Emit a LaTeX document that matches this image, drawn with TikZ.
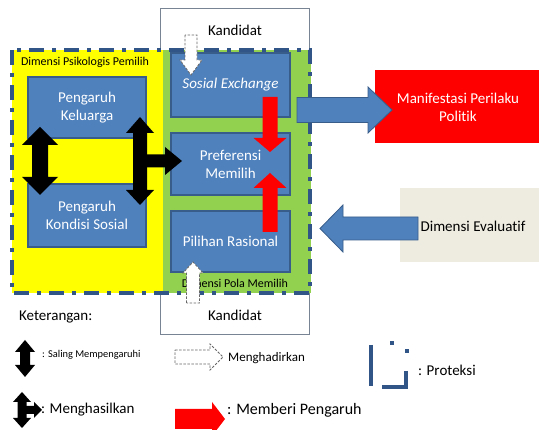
\documentclass[tikz,border=0pt]{standalone}
\usepackage{fontspec}
\setmainfont[Ligatures=NoCommon]{Carlito}
\definecolor{boxblue}{RGB}{79,129,189}
\definecolor{boxborder}{RGB}{56,93,138}
\definecolor{regyellow}{RGB}{255,255,0}
\definecolor{reggreen}{RGB}{146,208,80}
\definecolor{arrred}{RGB}{255,0,0}
\definecolor{protblue}{RGB}{50,85,135}
\definecolor{evalbg}{RGB}{238,236,225}
\definecolor{kborder}{RGB}{120,132,148}
\newcommand\hArr[7]{\path[#1] (#2,#5-#6) -- (#4,#5-#6) -- (#4,#5-#7) -- (#3,#5) -- (#4,#5+#7) -- (#4,#5+#6) -- (#2,#5+#6) -- cycle;}
\newcommand\vArr[7]{\path[#1] (#5-#6,#2) -- (#5-#6,#4) -- (#5-#7,#4) -- (#5,#3) -- (#5+#7,#4) -- (#5+#6,#4) -- (#5+#6,#2) -- cycle;}
\newcommand\vDbl[8]{\path[#1] (#2,#3) -- (#2+#8,#4) -- (#2+#7,#4) -- (#2+#7,#5) -- (#2+#8,#5) -- (#2,#6) -- (#2-#8,#5) -- (#2-#7,#5) -- (#2-#7,#4) -- (#2-#8,#4) -- cycle;}
\begin{document}
\begin{tikzpicture}[x=1pt,y=-1pt,
  bluebox/.style={draw=boxborder,line width=1.2pt,fill=boxblue,text=white,align=center,
    font=\fontsize{15}{18}\selectfont,inner sep=0pt},
  region/.style={inner sep=0pt,draw=none},
  blk/.style={fill=black},
  redarr/.style={fill=arrred},
  bluearr/.style={fill=boxblue,draw=boxborder,line width=0.8pt},
  whitearr/.style={fill=white,draw=black!60,line width=0.8pt,dash pattern=on 2.5pt off 1.5pt},
  lbl/.style={font=\fontsize{15}{18}\selectfont,inner sep=0pt},
  smalllbl/.style={font=\fontsize{12}{14}\selectfont,inner sep=0pt},
  protline/.style={draw=protblue,line width=4pt},
]
\useasboundingbox (0,0) rectangle (539,430);
\fill[white] (0,0) rectangle (539,430);

% Kandidat frame
\node[draw=kborder,fill=white,line width=0.8pt,minimum width=149pt,minimum height=326pt,inner sep=0pt] (kand) at (234.5,171) {};

% regions
\node[region,fill=regyellow,minimum width=151pt,minimum height=243pt] (psi) at (87.5,171.5) {};
\node[region,fill=reggreen,minimum width=148pt,minimum height=243pt] (pola) at (237,171.5) {};
\draw[protline,dash pattern=on 15pt off 8pt on 4pt off 8pt] (12,50) rectangle (310,293);

% boxes
\node[bluebox,minimum width=118pt,minimum height=61pt] (kel) at (87,107.5) {Pengaruh\\Keluarga};
\node[bluebox,minimum width=118pt,minimum height=63pt] (kon) at (87,215.5) {Pengaruh\\Kondisi Sosial};
\node[bluebox,minimum width=119pt,minimum height=64pt] (sos) at (230.5,85) {\itshape Sosial Exchange};
\node[bluebox,minimum width=119pt,minimum height=62pt] (pref) at (230.5,164) {Preferensi\\Memilih};
\node[bluebox,minimum width=119pt,minimum height=61pt] (pil) at (230.5,241.5) {Pilihan Rasional};

\node[fill=arrred,inner sep=0pt,minimum width=170pt,minimum height=73pt] (manbox) at (460,106.5) {};
\node[lbl,text=white,align=center] (man) at (458,107) {Manifestasi Perilaku\\Politik};
\node[fill=evalbg,inner sep=0pt,minimum width=145pt,minimum height=74pt] (evbox) at (472.5,225) {};
\node[lbl] (ev) at (473,226) {Dimensi Evaluatif};

% texts
\node[lbl] (kt) at (235,30) {Kandidat};
\node[lbl] (kb) at (235,315) {Kandidat};
\node[smalllbl] (psitxt) at (85,62) {Dimensi Psikologis Pemilih};
\node[smalllbl] (polatxt) at (235,283) {Dimensi Pola Memilih};

% black arrows
\vDbl{blk}{40}{127}{145}{177}{195}{8}{18}
\vDbl{blk}{140}{117}{133}{190}{205}{7}{14}
\hArr{blk}{140}{182}{165}{161}{6.5}{14}

% red arrows
\vArr{redarr}{97}{152}{138}{270}{7.5}{16.5}
\vArr{redarr}{232}{173}{188}{270}{7.5}{16.5}

% white dashed arrows
\vArr{whitearr}{35}{75}{60}{191}{6}{11}
\vArr{whitearr}{303}{262}{273}{193}{6.5}{10}

% blue arrows
\hArr{bluearr}{297}{392}{368}{110}{12.5}{23}
\hArr{bluearr}{418}{320}{343}{228.5}{11.5}{23.5}

% legend
\node[lbl,anchor=west] (ket) at (19,317) {Keterangan:};
\vDbl{blk}{25}{340}{352}{365}{377}{5}{10}
\node[inner sep=0pt,anchor=west,font=\fontsize{10.4}{12}\selectfont] (saling) at (42,355) {: Saling Mempengaruhi};
\vDbl{blk}{22}{392}{402}{418}{428}{4.5}{9}
\hArr{blk}{22}{42}{34}{410}{4}{8}
\node[lbl,anchor=west] (hasil) at (41,410) {: Menghasilkan};
\hArr{whitearr}{175}{223}{210}{357}{7}{13}
\node[font=\fontsize{13}{15}\selectfont,inner sep=0pt,anchor=west] (hadir) at (228,358) {Menghadirkan};
\hArr{redarr}{175}{225}{212}{419}{10}{17}
\node[font=\fontsize{16}{18}\selectfont,inner sep=0pt,anchor=west] (beri) at (227,410) {: Memberi Pengaruh};
\draw[protline] (371,345) -- (371,386);
\draw[protline] (382,387) -- (408,387);
\draw[protline] (406,371) -- (406,389);
\fill[protblue] (390,341) rectangle (394,345);
\fill[protblue] (405,349) rectangle (409,353);
\node[lbl,anchor=west] (prot) at (418,370) {: Proteksi};
\end{tikzpicture}
\end{document}
